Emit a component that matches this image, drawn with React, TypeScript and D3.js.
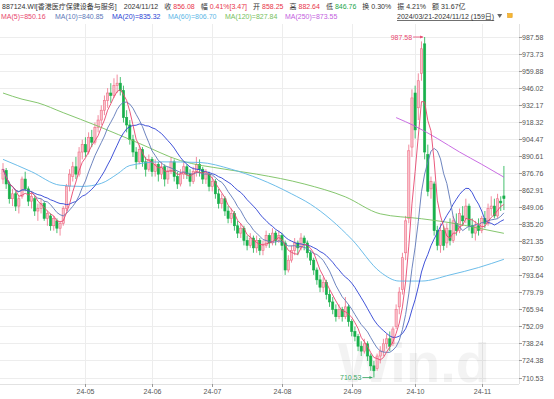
import React, { useEffect, useRef } from "react";
import * as d3 from "d3";

const WIDTH = 554;
const HEIGHT = 399;

// [open, high, low, close], one per trading day 2024/03/21 - 2024/11/12 (159 days)
const candles: [number, number, number, number][] = [
  [872, 885, 868, 880], [879, 881, 864, 868], [868, 870, 852, 856], [856, 864, 850, 860],
  [860, 862, 846, 850], [850, 858, 844, 856], [858, 874, 856, 872], [872, 878, 862, 864],
  [864, 866, 850, 854], [854, 862, 848, 858], [856, 858, 842, 846], [846, 852, 838, 848],
  [848, 856, 844, 852], [852, 854, 838, 840], [840, 846, 834, 844], [842, 844, 830, 834],
  [834, 842, 830, 840], [838, 840, 828, 832], [832, 838, 826, 836], [836, 850, 834, 848],
  [848, 868, 846, 866], [866, 880, 862, 876], [874, 886, 870, 882], [882, 890, 872, 876],
  [876, 898, 874, 894], [894, 904, 888, 900], [900, 906, 890, 894], [894, 910, 892, 906],
  [906, 912, 898, 902], [902, 918, 900, 914], [914, 924, 910, 920], [920, 932, 916, 928],
  [928, 940, 924, 936], [936, 946, 930, 942], [942, 950, 934, 940], [940, 954, 938, 948],
  [948, 957, 942, 950], [950, 955, 940, 944], [944, 948, 918, 922], [922, 928, 910, 916],
  [916, 920, 900, 904], [904, 908, 890, 894], [894, 898, 880, 886], [886, 900, 884, 896],
  [896, 898, 882, 886], [886, 890, 874, 880], [880, 892, 878, 888], [888, 890, 874, 878],
  [878, 888, 874, 884], [884, 886, 870, 876], [876, 886, 872, 882], [882, 884, 866, 872],
  [872, 882, 868, 878], [878, 890, 876, 886], [886, 888, 870, 874], [874, 878, 864, 868],
  [868, 880, 866, 876], [876, 886, 872, 882], [882, 884, 872, 876], [876, 880, 866, 870],
  [870, 882, 868, 878], [878, 890, 874, 884], [884, 888, 874, 880], [880, 882, 868, 872],
  [872, 880, 868, 876], [876, 878, 862, 866], [866, 874, 862, 870], [870, 872, 856, 860],
  [860, 864, 848, 852], [852, 860, 848, 856], [856, 858, 842, 846], [846, 850, 836, 840],
  [840, 848, 836, 844], [844, 846, 830, 834], [834, 838, 824, 828], [828, 836, 824, 832],
  [832, 834, 818, 822], [822, 826, 814, 818], [818, 828, 816, 824], [824, 826, 812, 816],
  [816, 826, 812, 822], [822, 824, 810, 814], [814, 822, 810, 818], [818, 830, 816, 826],
  [826, 828, 816, 820], [820, 832, 818, 828], [828, 830, 818, 822], [822, 830, 820, 826],
  [826, 828, 814, 818], [820, 822, 794, 798], [798, 810, 796, 806], [806, 818, 804, 814],
  [814, 824, 810, 820], [820, 822, 810, 816], [816, 828, 814, 824], [824, 826, 814, 820],
  [820, 822, 808, 812], [812, 814, 802, 806], [806, 808, 794, 798], [798, 800, 786, 790],
  [790, 794, 780, 784], [784, 792, 780, 788], [788, 790, 774, 778], [778, 782, 768, 772],
  [772, 776, 762, 766], [766, 770, 756, 760], [760, 770, 758, 766], [766, 768, 756, 760],
  [760, 776, 758, 768], [768, 770, 752, 756], [756, 758, 744, 748], [748, 752, 740, 744],
  [744, 746, 732, 736], [736, 740, 728, 732], [732, 742, 730, 738], [738, 740, 724, 728],
  [728, 730, 716, 720], [720, 724, 710.53, 716], [718, 730, 716, 728], [728, 736, 722, 732],
  [732, 742, 728, 738], [738, 746, 734, 742], [742, 748, 732, 736], [738, 752, 736, 750],
  [752, 770, 750, 766], [768, 784, 762, 780], [782, 812, 778, 808], [812, 842, 806, 838],
  [840, 900, 836, 895], [898, 945, 890, 938], [942, 948, 905, 912], [930, 958, 920, 952],
  [958, 984, 952, 978], [982, 987.58, 888, 894], [892, 900, 858, 862], [864, 874, 856, 870],
  [868, 870, 826, 830], [830, 834, 814, 818], [818, 836, 812, 830], [830, 834, 814, 818],
  [820, 836, 816, 832], [830, 840, 818, 822], [822, 842, 820, 838], [836, 844, 826, 830],
  [830, 848, 828, 844], [842, 850, 834, 838], [840, 856, 836, 850], [850, 852, 830, 834],
  [834, 840, 824, 828], [828, 838, 822, 834], [834, 840, 826, 830], [830, 842, 828, 840],
  [840, 846, 832, 836], [836, 852, 834, 848], [848, 858, 842, 850], [850, 856, 840, 842],
  [842, 860, 840, 856], [854, 858, 846, 852.61], [858.25, 882.64, 846.76, 856.08],
];

// long moving averages as [day index, value]
const ma60Points: [number, number][] = [
  [0, 888], [9, 878], [18, 867], [25, 866], [31, 868.5], [36, 876], [40, 883], [50, 886],
  [62, 885.5], [72, 880], [81, 872], [91, 860], [97, 851.5], [110, 823], [119, 796.4],
  [125, 789], [132, 789], [141, 794], [150, 800], [158, 806.7],
];
const ma120Points: [number, number][] = [
  [0, 942], [6, 937], [11, 934], [19, 926], [30, 915], [43, 901], [56, 887], [70, 880],
  [80, 876], [95, 868], [108, 857.5], [119, 843.7], [132, 839.7], [141, 836.5], [150, 832],
  [158, 827.84],
];
const ma250Points: [number, number][] = [
  [124, 922], [130, 915], [137, 905], [144, 894], [151, 884], [158, 873.55],
];

const monthTickIndex = [26, 47, 66, 88, 110, 130, 151];
const monthLabels = ["24-05", "24-06", "24-07", "24-08", "24-09", "24-10", "24-11"];

const yTicks = [
  710.53, 724.38, 738.24, 752.09, 765.94, 779.79, 793.64, 807.5, 821.35, 835.2, 849.06,
  862.91, 876.76, 890.61, 904.47, 918.32, 932.17, 946.02, 959.88, 973.73, 987.58,
];

const headerName = "887124.WI[香港医疗保健设备与服务]";
const headerDate = "2024/11/12";
const quoteLabels = ["收", "幅", "开", "高", "低", "换", "振", "额"];
const quoteValues = ["856.08", "0.41%[3.47]", "858.25", "882.64", "846.76", "0.30%", "4.21%", "31.67亿"];
const quoteTone = ["up", "up", "up", "up", "down", "flat", "flat", "flat"];

const maLabels = ["MA(5)", "MA(10)", "MA(20)", "MA(60)", "MA(120)", "MA(250)"];
const maLast = ["850.16", "840.85", "835.32", "806.70", "827.84", "873.55"];
const rangeLabel = "2024/03/21-2024/11/12 (159日)";

const FONT = "'Liberation Sans', Arial, 'Noto Sans CJK SC', sans-serif";
const UP = "#ef6f86";
const UP_FILL = "#f9c1cb";
const DOWN = "#18b04b";
const MA_COLORS = ["#e8476e", "#5d77b8", "#2b3fd4", "#5cb6e6", "#77c05e", "#c45ee0"];
const TONE: Record<string, string> = { up: "#e8354a", down: "#1aa64a", flat: "#333" };

export default function App() {
  const svgRef = useRef<SVGSVGElement | null>(null);

  useEffect(() => {
    const svg = d3.select(svgRef.current);
    svg.selectAll("*").remove();

    const plotTop = 24;
    const plotBottom = 384;
    const plotRight = 519;

    const x = d3.scaleLinear().domain([0, candles.length - 1]).range([3, 503.9]);
    const y = d3.scaleLinear().domain([710.53, 987.58]).range([377.5, 37]);

    // grid
    const grid = svg.append("g").attr("stroke", "#ededed").attr("stroke-width", 1);
    yTicks.forEach((t) => {
      grid.append("line").attr("x1", 0).attr("x2", plotRight)
        .attr("y1", Math.round(y(t)) + 0.5).attr("y2", Math.round(y(t)) + 0.5);
    });
    monthTickIndex.forEach((idx) => {
      grid.append("line").attr("y1", plotTop).attr("y2", plotBottom)
        .attr("x1", Math.round(x(idx)) + 0.5).attr("x2", Math.round(x(idx)) + 0.5);
    });
    svg.append("line").attr("x1", plotRight + 0.5).attr("x2", plotRight + 0.5)
      .attr("y1", plotTop).attr("y2", plotBottom).attr("stroke", "#e2e2e2");
    svg.append("line").attr("x1", 0).attr("x2", plotRight)
      .attr("y1", plotBottom + 0.5).attr("y2", plotBottom + 0.5).attr("stroke", "#e2e2e2");

    // watermark
    svg.append("text").attr("x", 338).attr("y", 382)
      .attr("font-family", "'Liberation Sans', Arial, sans-serif").attr("font-weight", "bold")
      .attr("font-size", 56).attr("fill", "#000").attr("opacity", 0.045).text("Win.d");

    // y axis
    const yAxis = svg.append("g");
    yTicks.forEach((t) => {
      const yy = Math.round(y(t)) + 0.5;
      yAxis.append("line").attr("x1", plotRight).attr("x2", plotRight + 3)
        .attr("y1", yy).attr("y2", yy).attr("stroke", "#999");
      yAxis.append("text").attr("x", plotRight + 3).attr("y", yy)
        .attr("dominant-baseline", "central").attr("font-size", 7).attr("font-family", FONT)
        .attr("fill", "#555").text(t.toFixed(2));
    });

    // x axis
    monthTickIndex.forEach((idx, k) => {
      const xx = Math.round(x(idx)) + 0.5;
      svg.append("line").attr("x1", xx).attr("x2", xx)
        .attr("y1", plotBottom).attr("y2", plotBottom + 3).attr("stroke", "#999");
      svg.append("text").attr("x", xx).attr("y", 394).attr("text-anchor", "middle")
        .attr("font-size", 7).attr("font-family", FONT).attr("fill", "#555")
        .text(monthLabels[k]);
    });

    // moving averages
    const closes = candles.map((d) => d[3]);
    const movingAverage = (n: number) =>
      closes.map((_, i) => d3.mean(closes.slice(Math.max(0, i - n + 1), i + 1)) as number);

    const lineIdx = d3.line<number>().x((_, i) => x(i)).y((v) => y(v));
    const linePts = d3.line<[number, number]>()
      .x((d) => x(d[0])).y((d) => y(d[1])).curve(d3.curveMonotoneX);

    const maG = svg.append("g").attr("fill", "none").attr("stroke-width", 0.9);
    maG.append("path").attr("d", linePts(ma120Points)).attr("stroke", MA_COLORS[4]);
    maG.append("path").attr("d", linePts(ma60Points)).attr("stroke", MA_COLORS[3]);
    maG.append("path").attr("d", linePts(ma250Points)).attr("stroke", MA_COLORS[5]);

    // candles
    const cw = 2.2;
    const cg = svg.append("g");
    candles.forEach(([o, h, l, c], i) => {
      const up = c >= o;
      const xc = x(i);
      const col = up ? UP : DOWN;
      cg.append("line").attr("x1", xc).attr("x2", xc).attr("y1", y(h)).attr("y2", y(l))
        .attr("stroke", col).attr("stroke-width", 0.8);
      const top = y(Math.max(o, c));
      const hgt = Math.max(0.8, Math.abs(y(o) - y(c)));
      cg.append("rect").attr("x", xc - cw / 2).attr("y", top).attr("width", cw).attr("height", hgt)
        .attr("fill", up ? UP_FILL : DOWN).attr("stroke", col).attr("stroke-width", 0.6);
    });

    maG.raise();
    [20, 10, 5].forEach((n) => {
      const k = n === 5 ? 0 : n === 10 ? 1 : 2;
      svg.append("path").attr("d", lineIdx(movingAverage(n))).attr("fill", "none")
        .attr("stroke", MA_COLORS[k]).attr("stroke-width", 0.9);
    });

    // high / low markers
    const hiIdx = d3.maxIndex(candles, (d) => d[1]);
    const loIdx = d3.minIndex(candles, (d) => d[2]);
    const hi = candles[hiIdx][1];
    const lo = candles[loIdx][2];
    const mark = (idx: number, v: number, color: string) => {
      const xx = x(idx) - 1.5;
      const yy = y(v);
      svg.append("line").attr("x1", xx - 10).attr("x2", xx).attr("y1", yy).attr("y2", yy)
        .attr("stroke", color).attr("stroke-width", 0.8);
      svg.append("path").attr("d", `M${xx},${yy}l-3,-1.6v3.2z`).attr("fill", color);
      svg.append("text").attr("x", xx - 11).attr("y", yy).attr("text-anchor", "end")
        .attr("dominant-baseline", "central").attr("font-size", 7).attr("font-family", FONT)
        .attr("fill", color).text(v.toFixed(2));
    };
    mark(hiIdx, hi, "#e8476e");
    mark(loIdx, lo, "#3aa866");

    // header line 1
    const h1 = svg.append("text").attr("x", 2).attr("y", 8.5).attr("font-size", 7)
      .attr("font-family", FONT).attr("fill", "#333");
    h1.append("tspan").text(headerName);
    h1.append("tspan").attr("dx", 7).text(headerDate);
    quoteLabels.forEach((lab, k) => {
      h1.append("tspan").attr("dx", 6).attr("fill", "#333").text(lab);
      h1.append("tspan").attr("dx", 2).attr("fill", TONE[quoteTone[k]]).text(quoteValues[k]);
    });

    // header line 2
    const maX = [1, 55, 112, 168, 225, 285];
    maLabels.forEach((lab, k) => {
      svg.append("text").attr("x", maX[k]).attr("y", 19).attr("font-size", 7)
        .attr("font-family", FONT).attr("fill", MA_COLORS[k]).text(`${lab}=${maLast[k]}`);
    });
    const rt = svg.append("text").attr("x", 397).attr("y", 19).attr("font-size", 7)
      .attr("font-family", FONT).attr("fill", "#333").attr("text-decoration", "underline")
      .text(rangeLabel);
    const node = rt.node() as SVGTextElement;
    const rEnd = 397 + (node ? node.getComputedTextLength() : 100);
    svg.append("path").attr("d", `M${rEnd + 3},14l5,0l-2.5,4z`).attr("fill", "#666");
    svg.append("rect").attr("x", rEnd + 13.5).attr("y", 13.5).attr("width", 4.5).attr("height", 4)
      .attr("fill", "#f7b733").attr("stroke", "#e09a1a").attr("stroke-width", 0.6);
  }, []);

  return (
    <svg
      ref={svgRef}
      width={WIDTH}
      height={HEIGHT}
      style={{ position: "absolute", left: 0, top: 0, background: "#fff" }}
    />
  );
}
